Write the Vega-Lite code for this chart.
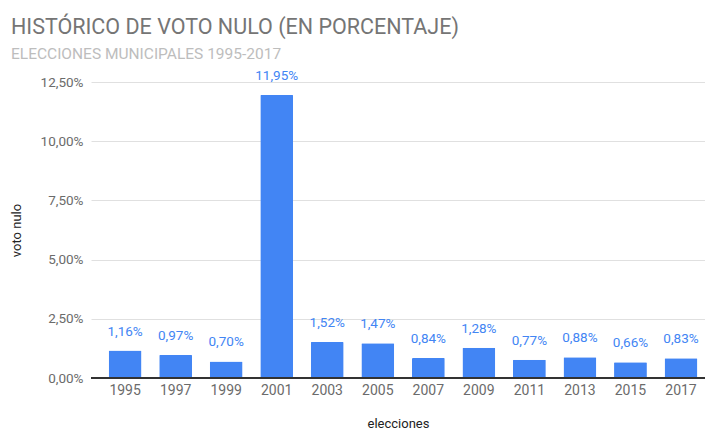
{
  "$schema": "https://vega.github.io/schema/vega-lite/v6.json",
  "width": 614,
  "height": 296,
  "autosize": {"type": "none"},
  "padding": {"left": 91, "top": 82, "right": 0, "bottom": 53},
  "background": "white",
  "title": {
    "text": "HISTÓRICO DE VOTO NULO (EN PORCENTAJE)",
    "subtitle": "ELECCIONES MUNICIPALES 1995-2017",
    "anchor": "start",
    "frame": "group",
    "dx": -80,
    "dy": 3,
    "offset": 10,
    "font": "Roboto",
    "fontSize": 21.5,
    "fontWeight": "normal",
    "color": "#757575",
    "subtitleFont": "Roboto",
    "subtitleFontSize": 15.5,
    "subtitleColor": "#bdbdbd",
    "subtitlePadding": 8
  },
  "data": {
    "values": [
      {"anio": "1995", "voto_nulo": 1.16},
      {"anio": "1997", "voto_nulo": 0.97},
      {"anio": "1999", "voto_nulo": 0.70},
      {"anio": "2001", "voto_nulo": 11.95},
      {"anio": "2003", "voto_nulo": 1.52},
      {"anio": "2005", "voto_nulo": 1.47},
      {"anio": "2007", "voto_nulo": 0.84},
      {"anio": "2009", "voto_nulo": 1.28},
      {"anio": "2011", "voto_nulo": 0.77},
      {"anio": "2013", "voto_nulo": 0.88},
      {"anio": "2015", "voto_nulo": 0.66},
      {"anio": "2017", "voto_nulo": 0.83}
    ]
  },
  "transform": [
    {"calculate": "replace(format(datum.voto_nulo, '.2f'), '.', ',') + '%'", "as": "etiqueta"}
  ],
  "encoding": {
    "x": {
      "field": "anio",
      "type": "nominal",
      "sort": null,
      "title": "elecciones",
      "scale": {"paddingInner": 0.35, "paddingOuter": 0.25, "align": 0.7},
      "axis": {
        "labelAngle": 0,
        "labelFont": "Roboto",
        "labelFontSize": 14,
        "labelColor": "#6b6b6b",
        "labelPadding": 5,
        "ticks": false,
        "domain": false,
        "titleFont": "Roboto",
        "titleFontSize": 13,
        "titleFontWeight": "normal",
        "titleColor": "#222222",
        "titlePadding": 20
      }
    },
    "y": {
      "field": "voto_nulo",
      "type": "quantitative",
      "title": "voto nulo",
      "scale": {"domain": [0, 12.5], "nice": false},
      "axis": {
        "values": [0, 2.5, 5, 7.5, 10, 12.5],
        "labelExpr": "replace(format(datum.value, '.2f'), '.', ',') + '%'",
        "labelFont": "Roboto",
        "labelFontSize": 13.5,
        "labelColor": "#6b6b6b",
        "labelPadding": 8,
        "ticks": false,
        "domain": false,
        "gridColor": "#e0e0e0",
        "titleFont": "Roboto",
        "titleFontSize": 13,
        "titleFontWeight": "normal",
        "titleColor": "#222222",
        "titlePadding": 17
      }
    }
  },
  "layer": [
    {
      "mark": {"type": "bar", "color": "#4285F4", "cornerRadius": 1}
    },
    {
      "mark": {"type": "text", "baseline": "alphabetic", "dy": -15, "font": "Roboto", "fontSize": 13.5, "color": "#4285F4"},
      "encoding": {"text": {"field": "etiqueta"}}
    },
    {
      "mark": {"type": "rule", "color": "#333333", "strokeWidth": 1.5},
      "encoding": {"y": {"datum": 0}, "x": null}
    }
  ],
  "config": {"view": {"stroke": null}}
}
